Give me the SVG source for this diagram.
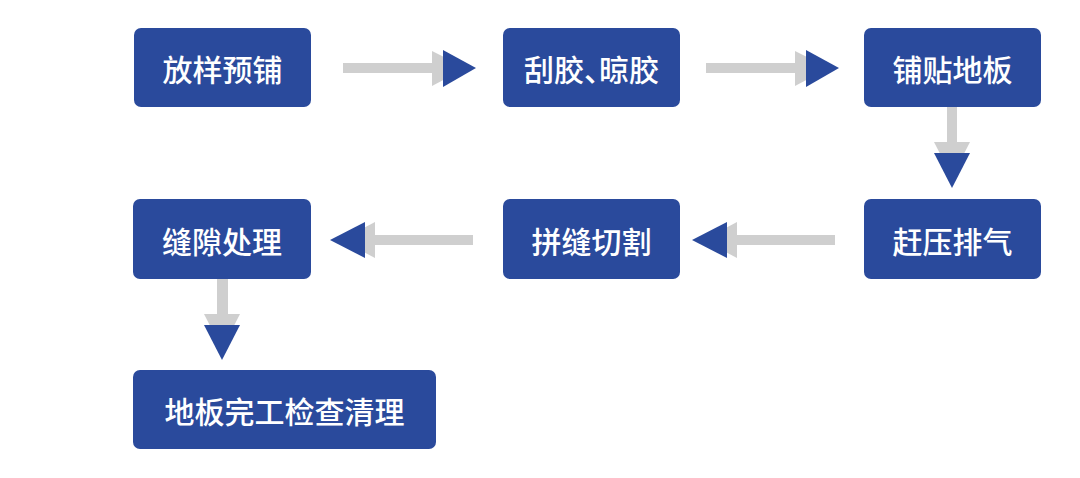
<svg xmlns="http://www.w3.org/2000/svg" width="1080" height="478" viewBox="0 0 1080 478">
<defs>
<style>
.box{fill:#2a4a9c}
.t{fill:#ffffff;font-family:"Noto Sans CJK SC","Noto Sans",sans-serif;font-size:30px;font-weight:500;text-anchor:middle;dominant-baseline:central}
.halt{font-feature-settings:"halt"}
.shaft{fill:#cfcfcf}
.head{fill:#2a4a9c}
</style>
</defs>
<rect width="1080" height="478" fill="#ffffff"/>
<g id="connectors">
<g id="c1"><rect class="shaft" x="343" y="63" width="90" height="10"/><polygon class="shaft" points="432,51 466,68 432,86"/><polygon class="head" points="443,50 476,68 443,87"/></g>
<g id="c2"><rect class="shaft" x="706" y="63" width="90" height="10"/><polygon class="shaft" points="795,51 829,68 795,86"/><polygon class="head" points="806,50 839,68 806,87"/></g>
<g id="c3"><rect class="shaft" x="947" y="107" width="10" height="37"/><polygon class="shaft" points="934,142 970,142 952,177"/><polygon class="head" points="934,153 970,153 952,188"/></g>
<g id="c4"><rect class="shaft" x="736" y="235" width="99" height="10"/><polygon class="shaft" points="737,222 737,258 703,240"/><polygon class="head" points="727,222 727,258 692,240"/></g>
<g id="c5"><rect class="shaft" x="374" y="235" width="99" height="10"/><polygon class="shaft" points="375,222 375,258 341,240"/><polygon class="head" points="365,222 365,258 330,240"/></g>
<g id="c6"><rect class="shaft" x="217" y="279" width="11" height="37"/><polygon class="shaft" points="204,314 240,314 222,349"/><polygon class="head" points="204,325 240,325 222,360"/></g>
</g>
<g id="n1"><rect class="box" x="134" y="28" width="177" height="79" rx="7"/><text class="t" x="222.5" y="68">放样预铺</text></g>
<g id="n2"><rect class="box" x="503" y="28" width="177" height="79" rx="7"/><text class="t halt" x="591.5" y="68">刮胶、晾胶</text></g>
<g id="n3"><rect class="box" x="864" y="28" width="177" height="79" rx="7"/><text class="t" x="952.5" y="68">铺贴地板</text></g>
<g id="n4"><rect class="box" x="864" y="199" width="177" height="80" rx="7"/><text class="t" x="952.5" y="240">赶压排气</text></g>
<g id="n5"><rect class="box" x="503" y="199" width="177" height="80" rx="7"/><text class="t" x="591.5" y="240">拼缝切割</text></g>
<g id="n6"><rect class="box" x="133" y="199" width="178" height="80" rx="7"/><text class="t" x="222" y="240">缝隙处理</text></g>
<g id="n7"><rect class="box" x="133" y="370" width="303" height="79" rx="7"/><text class="t" x="284.5" y="410">地板完工检查清理</text></g>
</svg>
